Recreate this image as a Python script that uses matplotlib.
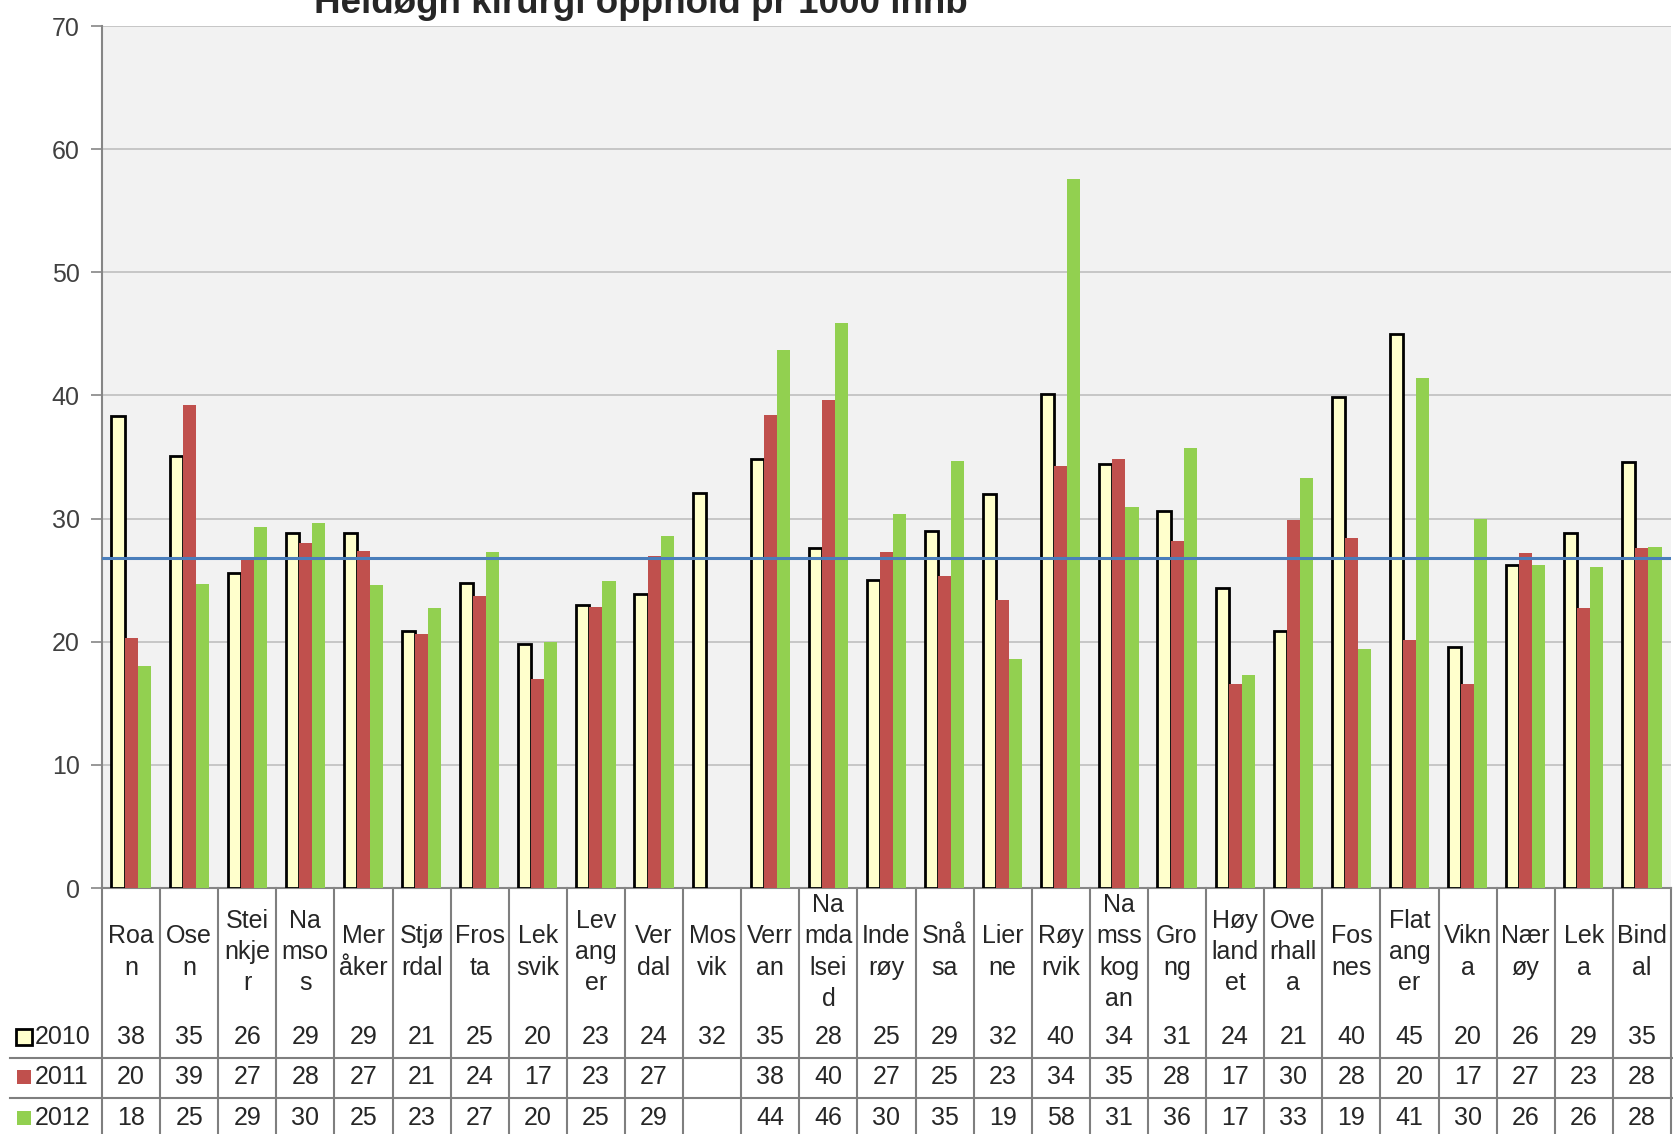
import numpy as np
import matplotlib
matplotlib.use("Agg")
import matplotlib.pyplot as plt
from matplotlib.transforms import blended_transform_factory
from matplotlib.lines import Line2D

plt.rcParams['font.family'] = ['Liberation Sans', 'DejaVu Sans']

# kommuner, slik de er brutt i tabellen
labels = ["Roa\nn", "Ose\nn", "Stei\nnkje\nr", "Na\nmso\ns", "Mer\nåker", "Stjø\nrdal",
          "Fros\nta", "Lek\nsvik", "Lev\nang\ner", "Ver\ndal", "Mos\nvik", "Verr\nan",
          "Na\nmda\nlsei\nd", "Inde\nrøy", "Snå\nsa", "Lier\nne", "Røy\nrvik",
          "Na\nmss\nkog\nan", "Gro\nng", "Høy\nland\net", "Ove\nrhall\na", "Fos\nnes",
          "Flat\nang\ner", "Vikn\na", "Nær\nøy", "Lek\na", "Bind\nal"]

v2010 = [38.3, 35.1, 25.6, 28.8, 28.8, 20.9, 24.8, 19.8, 23.0, 23.9, 32.1, 34.8, 27.6, 25.0,
         29.0, 32.0, 40.1, 34.4, 30.6, 24.4, 20.9, 39.9, 45.0, 19.6, 26.2, 28.8, 34.6]
v2011 = [20.3, 39.2, 26.6, 28.0, 27.4, 20.6, 23.7, 17.0, 22.8, 27.0, np.nan, 38.4, 39.6, 27.3,
         25.3, 23.4, 34.3, 34.8, 28.2, 16.6, 29.9, 28.4, 20.1, 16.6, 27.2, 22.7, 27.6]
v2012 = [18.0, 24.7, 29.3, 29.6, 24.6, 22.7, 27.3, 20.0, 24.9, 28.6, np.nan, 43.7, 45.9, 30.4,
         34.7, 18.6, 57.6, 30.9, 35.7, 17.3, 33.3, 19.4, 41.4, 30.0, 26.2, 26.1, 27.7]
snitt = 26.8
years = ["2010", "2011", "2012"]

W, H = 1674, 1134
fig = plt.figure(figsize=(W / 100, H / 100), dpi=100)
ax = fig.add_axes([102 / W, 1 - 888 / H, (1671 - 102) / W, (888 - 26) / H])
ax.set_facecolor('#f2f2f2')

n = len(labels)
x = np.arange(n)
bw = 0.225
ax.bar(x - bw, v2010, bw, color='#ffffcc', edgecolor='black', linewidth=2, zorder=3)
ax.bar(x, v2011, bw, color='#c0504d', zorder=3)
ax.bar(x + bw, v2012, bw, color='#92d050', zorder=3)
ax.axhline(snitt, color='#4a7ebb', lw=2.2, zorder=4)

ax.set_xlim(-0.5, n - 0.5)
ax.set_ylim(0, 70)
ax.set_yticks(range(0, 71, 10))
ax.yaxis.grid(True, color='#bfbfbf', lw=1.2)
ax.set_axisbelow(True)
ax.set_xticks([])
ax.tick_params(axis='y', length=8, width=1.2, color='#868686', labelsize=18,
               labelcolor='#404040', pad=8)
for s in ['top', 'right']:
    ax.spines[s].set_visible(False)
for s in ['left', 'bottom']:
    ax.spines[s].set_color('#868686')
    ax.spines[s].set_linewidth(1.5)

# datatabell under aksen
tr = blended_transform_factory(ax.transData, fig.transFigure)
fy = lambda py: 1 - py / H
gc = '#7f7f7f'
for b in np.arange(n + 1) - 0.5:
    ax.add_line(Line2D([b, b], [fy(888), 0], transform=tr, color=gc, lw=1.5, clip_on=False))
for py in [1058, 1098]:
    fig.add_artist(Line2D([10 / W, 1], [fy(py), fy(py)], color=gc, lw=1.5))

for i, lab in enumerate(labels):
    ax.text(i, fy(952), lab, transform=tr, ha='center', va='center', fontsize=18,
            color='#262626', linespacing=1.38)

rows = [v2010, v2011, v2012]
ys = [1037, 1077, 1118]
for vals, py in zip(rows, ys):
    for i, v in enumerate(vals):
        if np.isnan(v):
            continue
        ax.text(i, fy(py), str(int(np.floor(v + 0.5))), transform=tr, ha='center',
                va='center', fontsize=18, color='#262626')

keys = [dict(marker='s', ms=11, mfc='#ffffcc', mec='black', mew=2),
        dict(marker='s', ms=10, mfc='#c0504d', mec='#c0504d', mew=0),
        dict(marker='s', ms=10, mfc='#92d050', mec='#92d050', mew=0)]
for yr, py, k in zip(years, ys, keys):
    fig.add_artist(Line2D([24 / W], [fy(py)], ls='', **k))
    fig.text(35 / W, fy(py), yr, ha='left', va='center', fontsize=18, color='#262626')

fig.text(641 / W, fy(13), "Heldøgn kirurgi opphold pr 1000 innb", ha='center',
         va='baseline', fontsize=26.5, fontweight='bold', color='#262626')

fig.savefig("out.png", dpi=100)
